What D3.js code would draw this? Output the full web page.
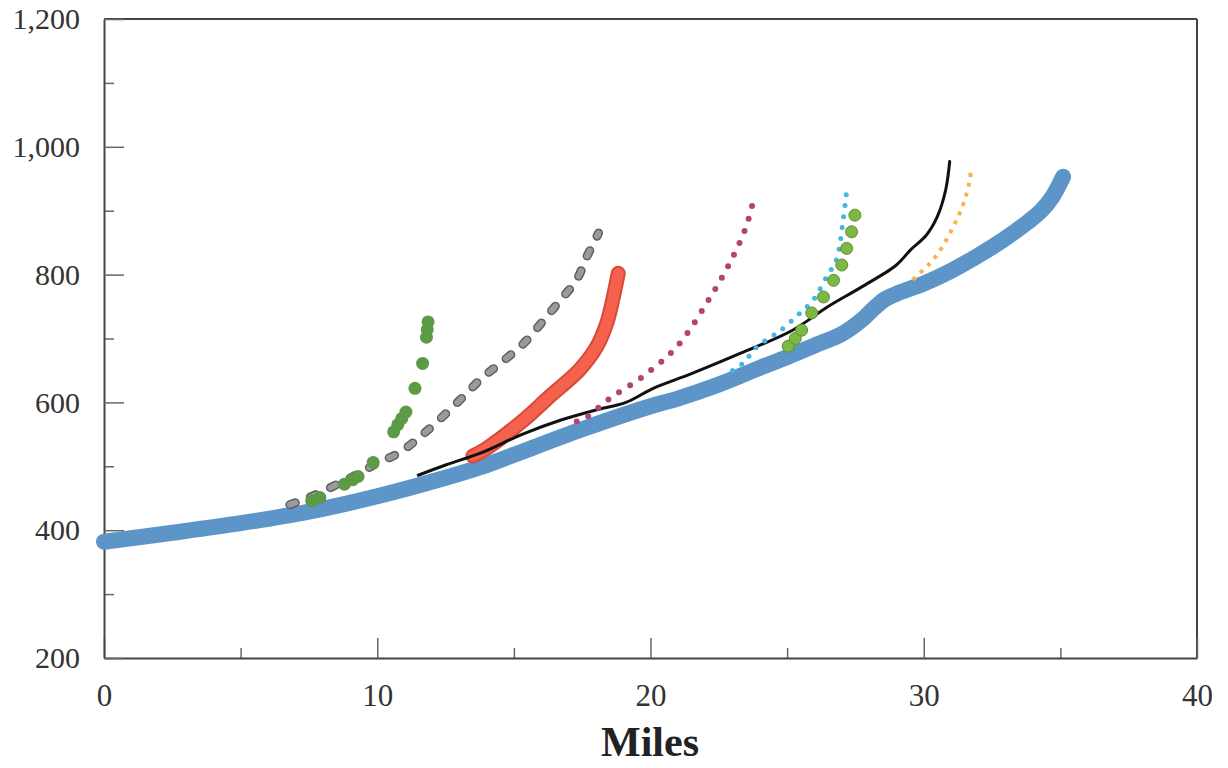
<!DOCTYPE html>
<html><head><meta charset="utf-8">
<script src="https://cdn.jsdelivr.net/npm/d3@7"></script>
<style>
html,body{margin:0;padding:0;background:#fff;}
svg{display:block;}
text{font-family:"Liberation Serif","DejaVu Serif",serif;}
</style></head>
<body>
<svg id="chart" width="1228" height="768"></svg>
<script>
// ---- data (miles, value) ----
const xTicks = [0, 10, 20, 30, 40];
const xMinorTicks = [5, 15, 25, 35];
const yTicks = [200, 400, 600, 800, 1000, 1200];
const yMinorTicks = [300, 500, 700, 900, 1100];
const xLabel = "Miles";

const blueSeries = [[0,382],[2.5,396],[5,411],[7.5,429],[10,453],[12.5,482],[13.8,499],[15,518],[17.5,558],[20,594],[21,606],[22.5,628],[24,654],[25,671],[26,689],[27,707],[27.7,728],[28.2,748],[28.6,762],[29,770],[30,786],[31,806],[32,830],[32.5,843],[33,857],[33.8,882],[34.3,900],[34.7,921],[35.1,953]];
const blackSeries = [[11.5,486],[12.5,502],[13.8,521],[15.3,550],[16.7,572],[18,588],[19.1,600],[20.1,622],[21.5,645],[23.3,677],[25.2,713],[26.5,750],[27.7,780],[29,815],[29.5,838],[30.1,862],[30.5,891],[30.8,932],[30.95,977]];
const redSeries = [[13.5,516],[14,528],[15.35,572],[16.3,609],[17.4,651],[18.03,687],[18.4,724],[18.64,765],[18.82,802]];
const graySeries = [[6.8,440],[7.5,451],[8.4,469],[9.25,487],[10,505],[10.8,521],[11.56,546],[12.4,578],[13.15,609],[13.8,637],[14.5,661],[15.35,692],[16.1,729],[16.7,760],[17.3,792],[17.67,828],[18.1,865]];
const darkGreenSeries = [[7.6,446],[7.9,451],[8.8,472],[9.1,479],[9.3,484],[9.85,506],[10.6,554],[10.75,565],[10.9,575],[11.05,585],[11.38,622],[11.66,661],[11.8,702],[11.83,714],[11.86,726]];
const maroonSeries = [[17.3,570],[17.6,575],[18.5,606],[19.7,640],[20.96,687],[22.05,755],[22.9,818],[23.5,875],[23.8,922]];
const lightBlueSeries = [[23.0,650],[23.4,662],[23.9,687],[24.5,705],[24.74,712],[25.47,740],[25.95,760],[26.45,797],[26.8,823],[27.05,885],[27.18,932]];
const lightGreenSeries = [[25.04,688],[25.3,700],[25.53,713],[25.9,740],[26.33,765],[26.7,791],[27,815],[27.18,841],[27.36,867],[27.48,893]];
const orangeSeries = [[29.6,792],[30.23,818],[30.6,838],[30.96,865],[31.26,891],[31.5,917],[31.67,945],[31.72,960]];

// ---- layout ----
const svg = d3.select("#chart");
const L = 104, R = 1197, T = 19, B = 658;
const x = d3.scaleLinear().domain([0, 40]).range([L, R]);
const y = d3.scaleLinear().domain([200, 1200]).range([B, T]);
const line = d3.line().x(d => x(d[0])).y(d => y(d[1])).curve(d3.curveCatmullRom.alpha(0.5));

const axisColor = "#444";
const textColor = "#333";

// frame top & right
svg.append("line").attr("x1", L).attr("x2", R).attr("y1", T).attr("y2", T).attr("stroke", axisColor).attr("stroke-width", 2);
svg.append("line").attr("x1", R).attr("x2", R).attr("y1", T).attr("y2", B).attr("stroke", axisColor).attr("stroke-width", 2);

// minor ticks
svg.append("g").attr("transform", `translate(0,${B})`)
  .call(d3.axisBottom(x).tickValues(xMinorTicks).tickSize(-10).tickFormat(""))
  .call(g => g.select(".domain").remove())
  .call(g => g.selectAll("line").attr("stroke", "#666").attr("stroke-width", 1.5));
svg.append("g").attr("transform", `translate(${L},0)`)
  .call(d3.axisLeft(y).tickValues(yMinorTicks).tickSize(-10).tickFormat(""))
  .call(g => g.select(".domain").remove())
  .call(g => g.selectAll("line").attr("stroke", "#666").attr("stroke-width", 1.5));

// major axes
const xAxis = svg.append("g").attr("transform", `translate(0,${B})`)
  .call(d3.axisBottom(x).tickValues(xTicks).tickSize(-20).tickSizeOuter(0).tickPadding(26).tickFormat(d3.format("d")));
const yAxis = svg.append("g").attr("transform", `translate(${L},0)`)
  .call(d3.axisLeft(y).tickValues(yTicks).tickSize(-20).tickSizeOuter(0).tickPadding(24).tickFormat(d3.format(",")));
[xAxis, yAxis].forEach(g => {
  g.select(".domain").attr("stroke", axisColor).attr("stroke-width", 2);
  g.selectAll(".tick line").attr("stroke", "#666").attr("stroke-width", 1.5);
  g.selectAll(".tick text").attr("fill", textColor).style("font-family", '"Liberation Serif", serif');
});
xAxis.selectAll(".tick text").style("font-size", "31px");
yAxis.selectAll(".tick text").style("font-size", "30px");

// axis title
svg.append("text").attr("x", 650).attr("y", 756).attr("text-anchor", "middle")
  .style("font-size", "42px").style("font-weight", "bold").attr("fill", "#222").text(xLabel);

// ---- series ----
const plot = svg.append("g");
// blue thick
plot.append("path").datum(blueSeries).attr("d", line).attr("fill", "none")
  .attr("stroke", "#5e95c9").attr("stroke-width", 16).attr("stroke-linecap", "round").attr("stroke-linejoin", "round");
// gray dashed
plot.append("path").datum(graySeries).attr("d", line).attr("fill", "none")
  .attr("stroke", "#5f5f5f").attr("stroke-width", 9).attr("stroke-dasharray", "6,16").attr("stroke-linecap", "round");
plot.append("path").datum(graySeries).attr("d", line).attr("fill", "none")
  .attr("stroke", "#9a9a9a").attr("stroke-width", 6).attr("stroke-dasharray", "6,16").attr("stroke-linecap", "round");
// red thick
plot.append("path").datum(redSeries).attr("d", line).attr("fill", "none")
  .attr("stroke", "#d9493a").attr("stroke-width", 15).attr("stroke-linecap", "round");
plot.append("path").datum(redSeries).attr("d", line).attr("fill", "none")
  .attr("stroke", "#f4614c").attr("stroke-width", 11).attr("stroke-linecap", "round");
// black
plot.append("path").datum(blackSeries).attr("d", line).attr("fill", "none")
  .attr("stroke", "#111").attr("stroke-width", 3).attr("stroke-linecap", "round");
// maroon dotted
plot.append("path").datum(maroonSeries).attr("d", line).attr("fill", "none")
  .attr("stroke", "#b3446f").attr("stroke-width", 6).attr("stroke-dasharray", "0,13").attr("stroke-linecap", "round");
// light blue dotted
plot.append("path").datum(lightBlueSeries).attr("d", line).attr("fill", "none")
  .attr("stroke", "#47b4e6").attr("stroke-width", 5).attr("stroke-dasharray", "0,11").attr("stroke-linecap", "round");
// light green blobs
plot.selectAll("circle.lg").data(lightGreenSeries).join("circle").attr("class", "lg")
  .attr("cx", d => x(d[0])).attr("cy", d => y(d[1])).attr("r", 6)
  .attr("fill", "#7cb843").attr("stroke", "#5e8f30").attr("stroke-width", 1);
// orange dotted
plot.append("path").datum(orangeSeries).attr("d", line).attr("fill", "none")
  .attr("stroke", "#f8b24e").attr("stroke-width", 4).attr("stroke-dasharray", "4,6");
// dark green blobs
plot.selectAll("circle.dg").data(darkGreenSeries).join("circle").attr("class", "dg")
  .attr("cx", d => x(d[0])).attr("cy", d => y(d[1])).attr("r", 6.5)
  .attr("fill", "#5c9a45");
</script>
</body></html>
